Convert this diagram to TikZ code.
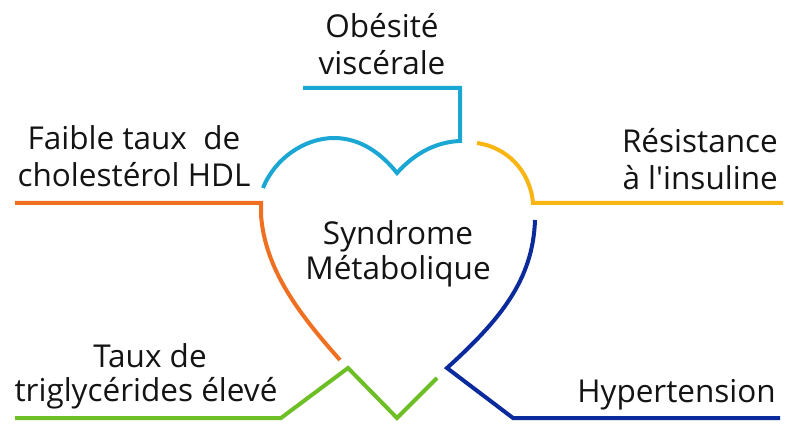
\documentclass[tikz,border=0pt]{standalone}
\usepackage{fontspec}
\setmainfont{Open Sans}[Ligatures=TeXOff]
\begin{document}
\begin{tikzpicture}[x=1pt,y=-1pt,
  lbl/.style={inner sep=0pt,font=\fontsize{31.5}{37}\selectfont,text=black!92},
  lw/.style={line width=4pt,line join=miter}]
\definecolor{ccyan}{HTML}{1AA7D3}
\definecolor{corange}{HTML}{F07022}
\definecolor{cyellow}{HTML}{F9B511}
\definecolor{cdblue}{HTML}{0B2A9C}
\definecolor{cgreen}{HTML}{6DBF25}
\useasboundingbox[fill=white] (0,0) rectangle (800,427);

% labels
\node[lbl,anchor=base] (ob1) at (382,38) {Obésité};
\node[lbl,anchor=base] (ob2) at (382,75) {viscérale};
\node[lbl,anchor=base] (hd1) at (134,150) {Faible taux\ \ de};
\node[lbl,anchor=base] (hd2) at (134,187) {cholestérol HDL};
\node[lbl,anchor=base east] (ri1) at (778,153) {Résistance};
\node[lbl,anchor=base east] (ri2) at (778,190) {à l'insuline};
\node[lbl,anchor=base] (sm1) at (398,245) {Syndrome};
\node[lbl,anchor=base] (sm2) at (398,280) {Métabolique};
\node[lbl,anchor=base] (tg1) at (150,367) {Taux de};
\node[lbl,anchor=base] (tg2) at (146,401) {triglycérides élevé};
\node[lbl,anchor=base east] (hy) at (776,402) {Hypertension};

% named points
\coordinate (c0) at (303,88);
\coordinate (c1) at (460,88);
\coordinate (c2) at (460,141);
\coordinate (notch) at (397,173);
\coordinate (ltop) at (334,138);
\coordinate (lend) at (263,188);
\coordinate (y0) at (477,143);
\coordinate (y1) at (533,203);
\coordinate (y2) at (783,203);
\coordinate (o0) at (15,203);
\coordinate (o1) at (261,203);
\coordinate (o2) at (340,360);
\coordinate (b0) at (535,220);
\coordinate (b1) at (447,368);
\coordinate (b2) at (513,418);
\coordinate (b3) at (780,418);
\coordinate (g0) at (15,418);
\coordinate (g1) at (281,418);
\coordinate (g2) at (348,368);
\coordinate (g3) at (397,418);
\coordinate (g4) at (437,378);

% cyan
\draw[lw,ccyan] (c0) -- (c1) -- (c2)
  .. controls (435,142) and (414,154) .. (notch)
  .. controls (381,153) and (360,138) .. (ltop)
  .. controls (305,138) and (275,158) .. (lend);
% yellow
\draw[lw,cyellow] (y0) .. controls (506,147) and (530,170) .. (y1) -- (y2);
% orange
\draw[lw,corange] (o0) -- (o1) -- (261,215) .. controls (265,270) and (300,315) .. (o2);
% dark blue
\draw[lw,cdblue] (b0) .. controls (533,280) and (500,320) .. (b1) -- (b2) -- (b3);
% green
\draw[lw,cgreen] (g0) -- (g1) -- (g2) -- (g3) -- (g4);
\end{tikzpicture}
\end{document}
